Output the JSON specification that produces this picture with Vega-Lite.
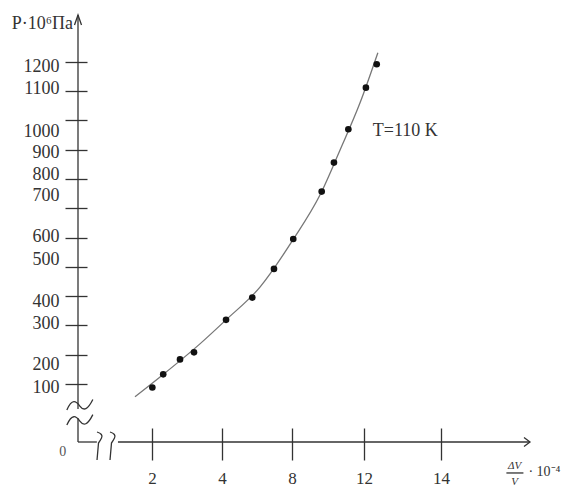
{
  "$schema": "https://vega.github.io/schema/vega-lite/v6.json",
  "width": 452,
  "height": 427,
  "autosize": "none",
  "padding": {"left": 78, "top": 15, "right": 50, "bottom": 48},
  "background": "white",
  "config": {"view": {"stroke": null}, "font": "Liberation Serif"},
  "layer": [
    {
      "data": {"values": [
        {"x": 1.54, "y": 78}, {"x": 2.23, "y": 124}, {"x": 3.37, "y": 237},
        {"x": 4.23, "y": 319}, {"x": 6.17, "y": 431}, {"x": 8.05, "y": 592},
        {"x": 9.56, "y": 746}, {"x": 10.67, "y": 899}, {"x": 11.78, "y": 1060},
        {"x": 12.36, "y": 1231}
      ]},
      "mark": {"type": "line", "interpolate": "monotone", "color": "#777", "strokeWidth": 1.3},
      "encoding": {
        "x": {
          "field": "x", "type": "quantitative",
          "scale": {"domain": [0, 2, 4, 8, 12, 14, 16.3], "range": [0, 74, 144, 214, 286, 363, 452], "zero": false, "nice": false, "clamp": false},
          "axis": {"values": [2, 4, 8, 12, 14], "tickCount": 20, "offset": -14, "tickSize": 32, "domain": false, "grid": false, "title": null,
                   "labelFontSize": 17, "labelFont": "Liberation Serif", "labelColor": "#333", "tickColor": "#333", "tickWidth": 1.3,
                   "labelPadding": 10, "labelFlush": false, "labelOverlap": false, "format": "d"}
        },
        "y": {
          "field": "y", "type": "quantitative",
          "scale": {"domain": [0, 100, 1360], "range": [427, 369, 0], "zero": false, "nice": false, "clamp": false},
          "axis": {"values": [100, 200, 300, 400, 500, 600, 700, 800, 900, 1000, 1100, 1200], "tickCount": 30, "offset": -9, "tickSize": 22,
                   "domain": false, "grid": false, "title": null, "labelFontSize": 18, "labelFont": "Liberation Serif", "format": "d",
                   "labelColor": "#333", "tickColor": "#333", "tickWidth": 1.3, "labelPadding": 6, "labelOverlap": false,
                   "labelOffset": {"expr": "datum.value==1200?5:datum.value==1100?-3:datum.value==1000?11:datum.value==900?3:datum.value==800?-5:datum.value==700?-13:datum.value==600?-1:datum.value==500?-7:datum.value==400?5:datum.value==300?-2:datum.value==200?10:3"}}
        }
      }
    },
    {
      "data": {"values": [
        {"x": 2.01, "y": 94}, {"x": 2.32, "y": 133}, {"x": 2.80, "y": 184}, {"x": 3.20, "y": 208},
        {"x": 4.23, "y": 319}, {"x": 5.73, "y": 395}, {"x": 6.97, "y": 493}, {"x": 8.07, "y": 595},
        {"x": 9.65, "y": 757}, {"x": 10.33, "y": 856}, {"x": 11.13, "y": 970}, {"x": 12.05, "y": 1112},
        {"x": 12.33, "y": 1192}
      ]},
      "mark": {"type": "point", "filled": true, "color": "#111", "size": 44, "opacity": 1},
      "encoding": {"x": {"field": "x", "type": "quantitative"}, "y": {"field": "y", "type": "quantitative"}}
    },
    {
      "data": {"values": [
        {"x": 0, "y": 0, "x2": 0, "y2": 41},
        {"x": 0, "y": 57, "x2": 0, "y2": 1360},
        {"x": 0, "y": 0, "x2": 0.51, "y2": 0},
        {"x": 1.08, "y": 0, "x2": 16.3, "y2": 0},
        {"x": 15.69, "y": -53.4, "x2": 16.13, "y2": -53.4}
      ]},
      "mark": {"type": "rule", "color": "#333", "strokeWidth": 1.3},
      "encoding": {
        "x": {"field": "x", "type": "quantitative"}, "x2": {"field": "x2"},
        "y": {"field": "y", "type": "quantitative"}, "y2": {"field": "y2"}
      }
    },
    {
      "data": {"values": [{"x": 0, "y": 1360}]},
      "mark": {"type": "point", "shape": "M-0.35,1 L0,0 L0.35,1", "size": 400, "filled": false, "stroke": "#333", "strokeWidth": 1.3, "opacity": 1},
      "encoding": {"x": {"field": "x", "type": "quantitative"}, "y": {"field": "y", "type": "quantitative"}}
    },
    {
      "data": {"values": [{"x": 16.3, "y": 0}]},
      "mark": {"type": "point", "shape": "M-1,-0.75 L0,0 L-1,0.75", "size": 144, "filled": false, "stroke": "#333", "strokeWidth": 1.3, "opacity": 1},
      "encoding": {"x": {"field": "x", "type": "quantitative"}, "y": {"field": "y", "type": "quantitative"}}
    },
    {
      "data": {"values": [{"x": 0.05, "y": 62}, {"x": 0.05, "y": 36}]},
      "mark": {"type": "point", "shape": "M-1,0.3 C-0.6,-0.6 -0.3,-0.4 0,0 C0.3,0.4 0.6,0.3 1,-0.5", "size": 676, "filled": false, "stroke": "#333", "strokeWidth": 1.3, "opacity": 1},
      "encoding": {"x": {"field": "x", "type": "quantitative"}, "y": {"field": "y", "type": "quantitative"}}
    },
    {
      "data": {"values": [{"x": 0.595, "y": 0}, {"x": 0.946, "y": 0}]},
      "mark": {"type": "point", "shape": "M-0.3,-1 Q0.35,-0.8 0.15,-0.4 Q0,-0.1 -0.15,0.1 L-0.3,1.8", "size": 400, "filled": false, "stroke": "#333", "strokeWidth": 1.3, "opacity": 1},
      "encoding": {"x": {"field": "x", "type": "quantitative"}, "y": {"field": "y", "type": "quantitative"}}
    },
    {
      "data": {"values": [{"x": 0, "y": 1329, "label": "P·10⁶Па"}]},
      "mark": {"type": "text", "align": "right", "baseline": "middle", "dx": -5, "fontSize": 18, "font": "Liberation Serif", "color": "#333"},
      "encoding": {"x": {"field": "x", "type": "quantitative"}, "y": {"field": "y", "type": "quantitative"}, "text": {"field": "label"}}
    },
    {
      "data": {"values": [{"x": 12.23, "y": 964, "label": "T=110 K"}]},
      "mark": {"type": "text", "align": "left", "baseline": "middle", "fontSize": 18, "font": "Liberation Serif", "color": "#333"},
      "encoding": {"x": {"field": "x", "type": "quantitative"}, "y": {"field": "y", "type": "quantitative"}, "text": {"field": "label"}}
    },
    {
      "data": {"values": [{"x": -0.41, "y": -17.2, "label": "0"}]},
      "mark": {"type": "text", "align": "center", "baseline": "middle", "fontSize": 14, "font": "Liberation Serif", "color": "#555"},
      "encoding": {"x": {"field": "x", "type": "quantitative"}, "y": {"field": "y", "type": "quantitative"}, "text": {"field": "label"}}
    },
    {
      "data": {"values": [{"x": 15.9, "y": -41.4, "label": "ΔV"}, {"x": 15.9, "y": -69, "label": "V"}]},
      "mark": {"type": "text", "align": "center", "baseline": "middle", "fontSize": 11, "font": "Liberation Serif", "fontStyle": "italic", "color": "#333"},
      "encoding": {"x": {"field": "x", "type": "quantitative"}, "y": {"field": "y", "type": "quantitative"}, "text": {"field": "label"}}
    },
    {
      "data": {"values": [{"x": 16.26, "y": -51.7, "label": "· 10⁻⁴"}]},
      "mark": {"type": "text", "align": "left", "baseline": "middle", "fontSize": 14, "font": "Liberation Serif", "color": "#333"},
      "encoding": {"x": {"field": "x", "type": "quantitative"}, "y": {"field": "y", "type": "quantitative"}, "text": {"field": "label"}}
    }
  ]
}
